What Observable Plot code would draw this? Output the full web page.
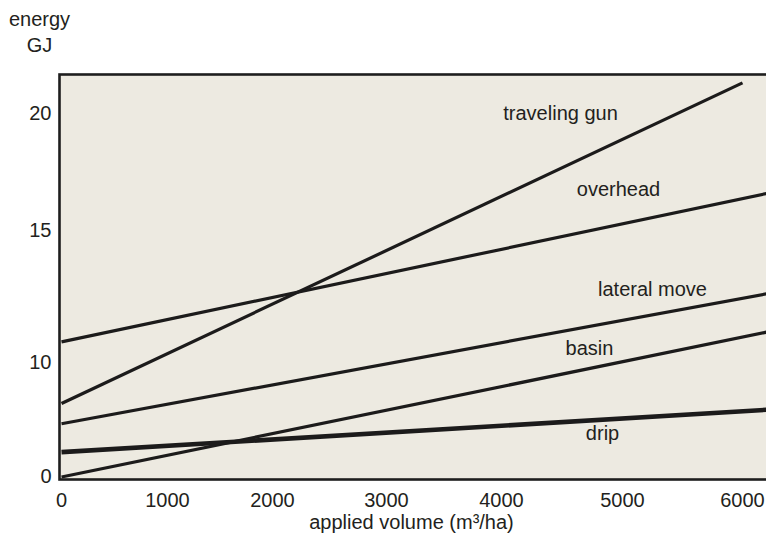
<!DOCTYPE html>
<html>
<head>
<meta charset="utf-8">
<script src="https://cdn.jsdelivr.net/npm/d3@7"></script>
<script src="https://cdn.jsdelivr.net/npm/@observablehq/plot@0.6"></script>
<style>
  html, body { margin: 0; padding: 0; background: #ffffff; overflow: hidden; }
</style>
</head>
<body>
<div id="chart"></div>
<script>
// ---- data ----
const series       = ["traveling gun", "overhead", "lateral move", "basin", "drip"];
const startVolume  = [0, 0, 0, 0, 0];
const startEnergy  = [6.42, 10.78, 4.65, 0, 2.17];
const endVolume    = [6000, 6200, 6200, 6200, 6200];
const endEnergy    = [21.31, 16.58, 12.60, 11.15, 5.87];
const labelVolume  = [4488, 4967, 5250, 4727, 4835];
const labelEnergy  = [20.0, 16.75, 12.77, 10.53, 3.77];

const xTicks  = [0, 1000, 2000, 3000, 4000, 5000, 6000];
const xDomain = [0, 1000, 2000, 3000, 4000, 5000, 6000, 6200];
const yTicks  = [0, 10, 15, 20];

const xTitle = "applied volume (m³/ha)";
const yTitle = "energy\nGJ";

// ---- table built from the arrays ----
const table = series.map((s, i) => ({
  series: s,
  x1: startVolume[i], y1: startEnergy[i],
  x2: endVolume[i],   y2: endEnergy[i],
  lx: labelVolume[i], ly: labelEnergy[i]
}));

const chart = Plot.plot({
  width: 766,
  height: 540,
  marginLeft: 59,
  marginTop: 74,
  marginBottom: 61,
  marginRight: -3,
  style: {
    fontFamily: "'Liberation Sans', Arial, Helvetica, sans-serif",
    fontSize: "20px",
    color: "#231f20",
    background: "#ffffff"
  },
  x: {
    type: "linear",
    domain: xDomain,
    range: [61, 167, 272, 386, 501, 622, 742, 766],
    ticks: xTicks,
    tickFormat: "d",
    tickSize: 0,
    tickPadding: 13,
    label: null
  },
  y: {
    type: "linear",
    domain: yTicks,
    range: [476.5, 362, 230, 113],
    ticks: yTicks,
    tickSize: 0,
    tickPadding: 8,
    label: null
  },
  marks: [
    Plot.frame({fill: "#edeae1"}),
    Plot.link(table, {
      x1: "x1", y1: "y1", x2: "x2", y2: "y2",
      stroke: "#1c1b1b",
      strokeWidth: d => d.series === "drip" ? 4.6 : 3.2,
      strokeLinecap: "butt",
      clip: true
    }),
    Plot.frame({stroke: "#1e1e1e", strokeWidth: 2.6}),
    Plot.text(table, {
      x: "lx", y: "ly", text: "series",
      fill: "#231f20", fontSize: 20, textAnchor: "middle"
    }),
    Plot.text([xTitle], {
      frameAnchor: "bottom", dx: -3, dy: 43, lineAnchor: "middle",
      fill: "#231f20", fontSize: 20, textAnchor: "middle"
    }),
    Plot.text([yTitle], {
      frameAnchor: "top-left", dx: -20, dy: -67,
      lineAnchor: "top", lineHeight: 1.3,
      fill: "#231f20", fontSize: 20, textAnchor: "middle"
    })
  ]
});

document.getElementById("chart").appendChild(chart);
</script>
</body>
</html>
